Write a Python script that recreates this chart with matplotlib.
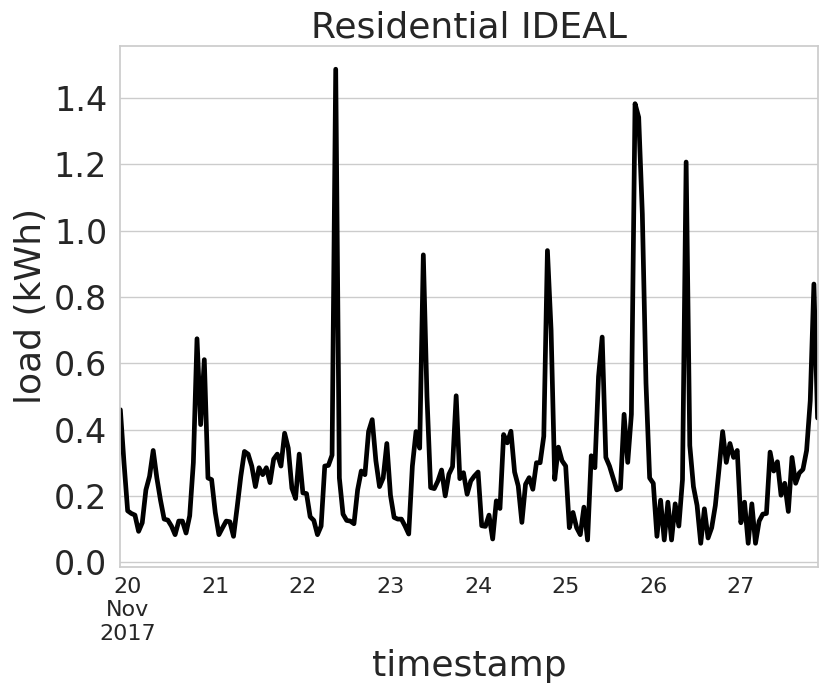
import numpy as np
import pandas as pd
import matplotlib
matplotlib.use("Agg")
import matplotlib.pyplot as plt
import seaborn as sns

sns.set_theme(style="whitegrid")

# hourly load readings (kWh), first reading at 2017-11-19 22:00
start = "2017-11-19 22:00"
nov19 = [0.46, 0.30]
nov20 = [0.155, 0.147, 0.142, 0.093, 0.119, 0.218, 0.259, 0.337, 0.254, 0.187, 0.130, 0.127,
         0.109, 0.083, 0.124, 0.124, 0.088, 0.140, 0.30, 0.674, 0.415, 0.611, 0.254, 0.249]
nov21 = [0.150, 0.083, 0.104, 0.124, 0.122, 0.078, 0.166, 0.259, 0.334, 0.326, 0.29, 0.228,
         0.285, 0.264, 0.285, 0.240, 0.311, 0.326, 0.29, 0.389, 0.344, 0.223, 0.192, 0.326]
nov22 = [0.209, 0.207, 0.137, 0.126, 0.083, 0.109, 0.290, 0.292, 0.323, 1.487, 0.254, 0.145,
         0.126, 0.124, 0.116, 0.218, 0.275, 0.264, 0.394, 0.430, 0.306, 0.228, 0.254, 0.358]
nov23 = [0.202, 0.135, 0.130, 0.130, 0.109, 0.085, 0.290, 0.394, 0.344, 0.927, 0.50, 0.225,
         0.222, 0.245, 0.278, 0.20, 0.265, 0.288, 0.502, 0.252, 0.27, 0.205, 0.245, 0.26]
nov24 = [0.272, 0.11, 0.108, 0.142, 0.07, 0.185, 0.162, 0.385, 0.36, 0.395, 0.272, 0.23,
         0.12, 0.235, 0.255, 0.22, 0.30, 0.30, 0.38, 0.94, 0.70, 0.25, 0.347, 0.306]
nov25 = [0.290, 0.104, 0.150, 0.104, 0.083, 0.166, 0.067, 0.321, 0.285, 0.560, 0.679, 0.316,
         0.290, 0.254, 0.218, 0.223, 0.446, 0.301, 0.446, 1.383, 1.342, 1.05, 0.54, 0.254]
nov26 = [0.238, 0.078, 0.187, 0.067, 0.181, 0.067, 0.176, 0.109, 0.249, 1.207, 0.352, 0.228,
         0.171, 0.057, 0.161, 0.073, 0.104, 0.171, 0.280, 0.394, 0.301, 0.358, 0.316, 0.337]
nov27 = [0.119, 0.181, 0.057, 0.176, 0.057, 0.124, 0.145, 0.147, 0.332, 0.275, 0.303, 0.202,
         0.238, 0.153, 0.316, 0.238, 0.269, 0.280, 0.337, 0.487, 0.839, 0.435]

load = nov19 + nov20 + nov21 + nov22 + nov23 + nov24 + nov25 + nov26 + nov27
ts = pd.Series(load, index=pd.date_range(start, periods=len(load), freq="h"))

fig, ax = plt.subplots(figsize=(8.3, 7), dpi=100)
ts.plot(ax=ax, color="black", linewidth=3.4)

ax.set_title("Residential IDEAL", fontsize=26)
ax.set_xlabel("timestamp", fontsize=26)
ax.set_ylabel("load (kWh)", fontsize=26)
ax.set_yticks(np.arange(0, 1.5, 0.2))
ax.tick_params(axis="y", labelsize=24)
ax.tick_params(axis="x", which="both", labelsize=16)
ax.xaxis.grid(False)

fig.subplots_adjust(left=0.145, right=0.985, top=0.935, bottom=0.19)
fig.savefig("out.png")
